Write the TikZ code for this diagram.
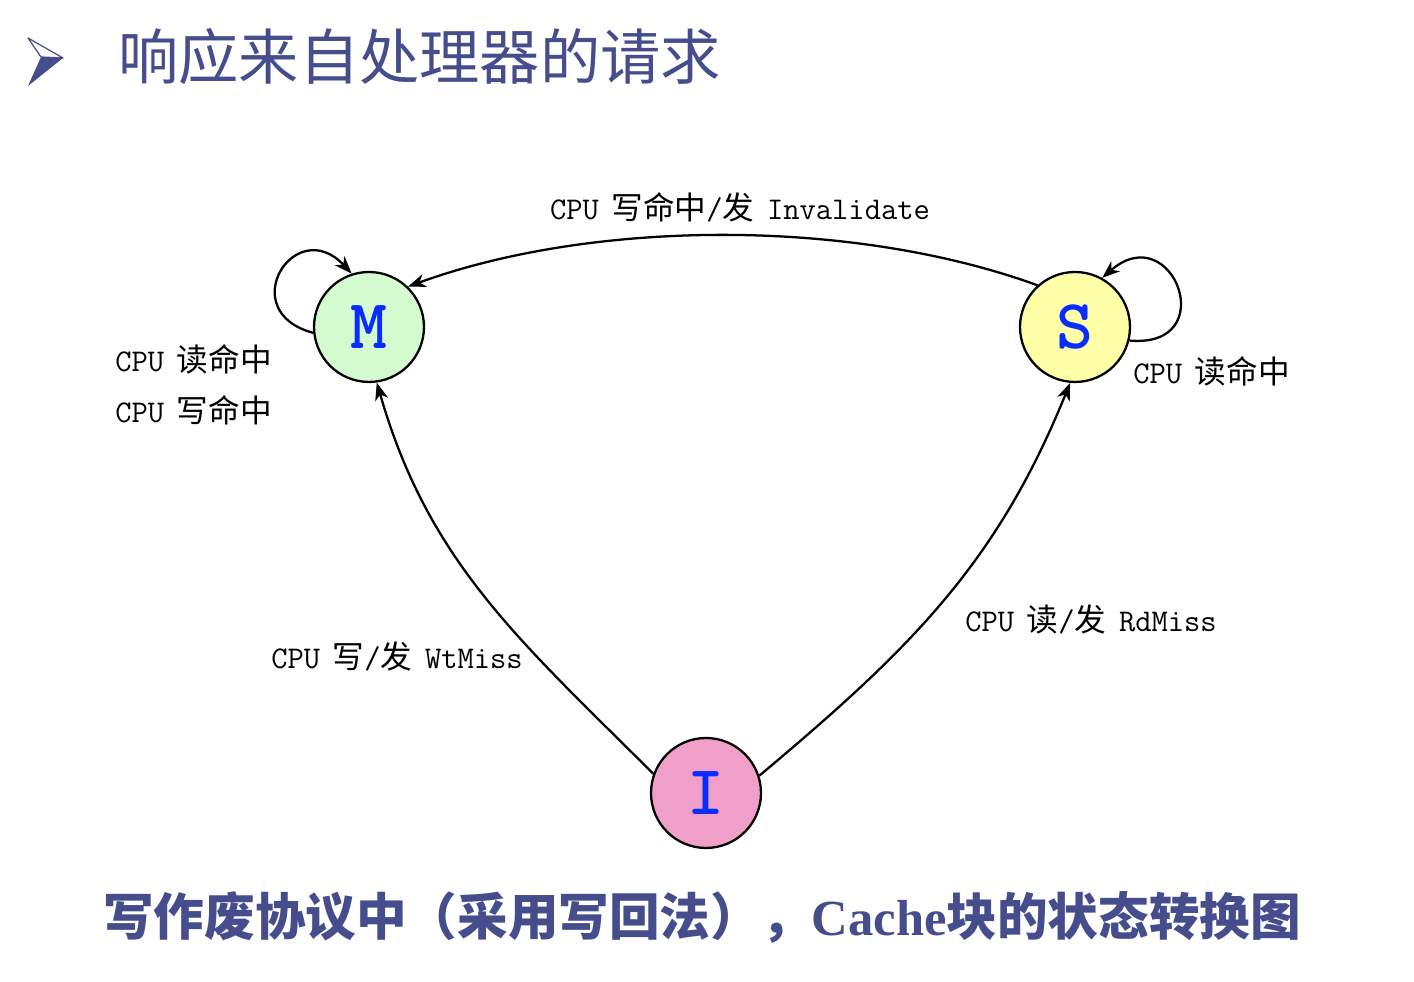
\documentclass[tikz,border=0pt]{standalone}
\usepackage{fontspec}
\usepackage{xcolor}
\usepackage{tikz}
\usetikzlibrary{arrows.meta}
\newfontfamily\cjkfont{Noto Sans CJK SC}
\newfontfamily\capserif{Liberation Serif}
\newcommand{\zhtxt}[1]{{\cjkfont #1}}
\newcommand{\gap}{\hspace{0.4em}}
\definecolor{titleblue}{RGB}{69,77,140}
\definecolor{letterblue}{RGB}{10,45,255}
\definecolor{mgreen}{RGB}{212,250,208}
\definecolor{syellow}{RGB}{255,255,168}
\definecolor{ipink}{RGB}{240,160,200}

\begin{document}
\begin{tikzpicture}[>={Stealth[length=10pt, width=7.5pt, inset=3pt]}, x=0.02cm, y=0.02cm,
    state/.style={circle, draw, line width=1.3pt, minimum size=2.2cm, inner sep=0pt,
        text=letterblue, font=\fontsize{40}{44}\selectfont\ttfamily\bfseries},
    lbl/.style={font=\fontsize{18}{20}\selectfont\ttfamily, inner sep=0pt},
    trans/.style={->, line width=1.3pt}]

    \useasboundingbox (0,0) rectangle (1414,982);

    % 标题
    \fill[titleblue] (41,925) -- (63,924) -- (28,896) -- cycle;
    \draw[titleblue, line width=0.7pt, line join=round] (28,944) -- (63,924) -- (41,925) -- cycle;
    \node[anchor=west, inner sep=0pt, text=titleblue, font=\fontsize{34.3}{40}\selectfont\cjkfont]
        (title) at (118,925) {响应来自处理器的请求};

    % 状态
    \node[state, fill=mgreen] (M) at (369,655) {M};
    \node[state, fill=syellow] (S) at (1075,655) {S};
    \node[state, fill=ipink] (I) at (706,189) {I};

    % 状态转换
    \draw[trans] (S.132) to[out=160, in=20, looseness=0.8] (M.46);
    \draw[trans] (I.160) to[out=135, in=-74] (M.-82);
    \draw[trans] (I.18) to[out=40, in=-112] (S.-95);
    \draw[trans] (M.186) to[out=165, in=133, looseness=3] (M.108);
    \draw[trans] (S.-14) to[out=-5, in=41, looseness=3.5] (S.61);

    % 标注
    \node[lbl] (invlbl) at (740,775) {CPU\gap\zhtxt{写命中}/\zhtxt{发}\gap Invalidate};
    \node[lbl, anchor=west] (mrd) at (115,623) {CPU\gap\zhtxt{读命中}};
    \node[lbl, anchor=west] (mwr) at (115,572) {CPU\gap\zhtxt{写命中}};
    \node[lbl, anchor=west] (srd) at (1133,611) {CPU\gap\zhtxt{读命中}};
    \node[lbl, anchor=west] (wtlbl) at (271,326) {CPU\gap\zhtxt{写}/\zhtxt{发}\gap WtMiss};
    \node[lbl, anchor=west] (rdlbl) at (965,362) {CPU\gap\zhtxt{读}/\zhtxt{发}\gap RdMiss};

    % 图注
    \node[anchor=west, inner sep=0pt, text=titleblue, font=\fontsize{28.8}{32}\selectfont\cjkfont\bfseries]
        (caption) at (103,65) {写作废协议中（采用写回法），{\capserif\bfseries Cache}块的状态转换图};

\end{tikzpicture}
\end{document}
